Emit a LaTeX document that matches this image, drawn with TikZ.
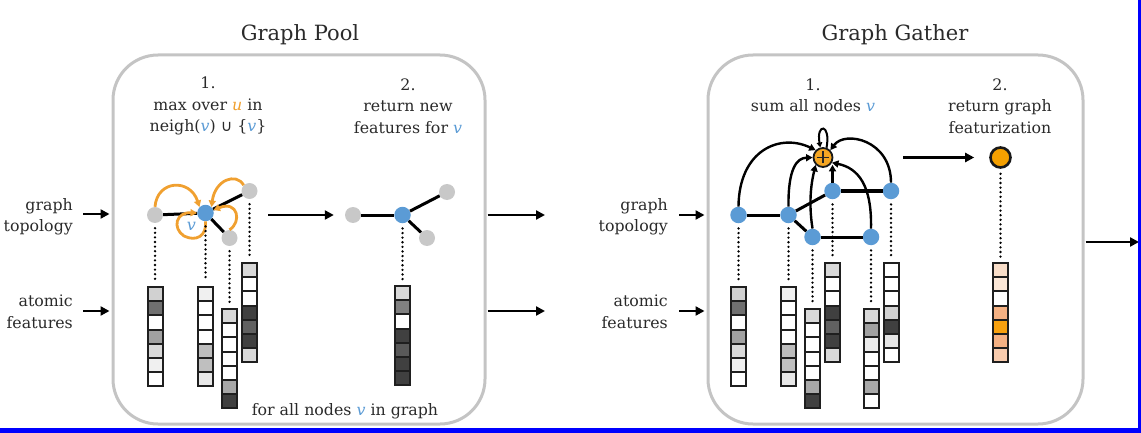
\documentclass[tikz,border=0pt]{standalone}
\usepackage{fontspec}
\setmainfont{DejaVu Serif}
\newfontfamily\symf{DejaVu Sans}
\usetikzlibrary{arrows.meta}
\definecolor{txt}{HTML}{2A2A2A}
\definecolor{vblue}{HTML}{5B9BD5}
\definecolor{uorange}{HTML}{F0A030}
\definecolor{boxgray}{HTML}{C4C4C4}
\definecolor{ngray}{HTML}{C8C8C8}
\definecolor{nblue}{HTML}{5B9BD5}
\definecolor{sumor}{HTML}{F5A623}
\definecolor{outor}{HTML}{F5A000}
\definecolor{peacha}{HTML}{F9DEC9}
\definecolor{peachb}{HTML}{FBE7D7}
\definecolor{peachc}{HTML}{F4B183}
\definecolor{peachd}{HTML}{F8CBAD}
\definecolor{orcell}{HTML}{F7A10F}
\definecolor{frameblue}{HTML}{0000FF}
\newcommand{\fcol}[4]{%
  \coordinate (#1) at (#2,#3);
  \foreach \cc [count=\ii from 0] in {#4}{
    \fill[fill=\cc] (#2-7.5,#3+\ii*14.2) rectangle ++(15,14.2);
  }
  \foreach \ii in {0,...,6}{
    \draw[cell] (#2-7.5,#3+\ii*14.2) rectangle ++(15,14.2);
  }
}
\begin{document}
\begin{tikzpicture}[x=1pt,y=-1pt,
  lbl/.style={font=\fontsize{15.8}{21.5}\selectfont, text=txt, inner sep=0pt, align=center},
  ttl/.style={font=\fontsize{21}{25}\selectfont, text=txt, inner sep=0pt},
  panel/.style={draw=boxgray, line width=3pt, rounded corners=45pt, minimum height=369pt, inner sep=0pt},
  arr/.style={line width=2.6pt, -{Triangle[length=9pt,width=9pt]}},
  garr/.style={line width=2.4pt, -{Triangle[length=6.5pt,width=7pt]}},
  oarr/.style={draw=uorange, line width=2.8pt, -{Triangle[length=6.5pt,width=7pt]}},
  gedge/.style={line width=3pt},
  gnode/.style={circle, fill=ngray, minimum size=16pt, inner sep=0pt},
  bnode/.style={circle, fill=nblue, minimum size=16.5pt, inner sep=0pt},
  dots/.style={line width=2.6pt, dash pattern=on 0pt off 4.6pt, line cap=round, shorten <=5pt, shorten >=6pt},
  cell/.style={draw=black!88, line width=2pt}
]
\useasboundingbox (0,0) rectangle (1141,433);

% panels
\node[panel, minimum width=372pt] (B1) at (299,239.5) {};
\node[panel, minimum width=375pt] (B2) at (895.5,239.5) {};

% titles
\node[ttl] (t1) at (300,35) {Graph Pool};
\node[ttl] (t2) at (895,35) {Graph Gather};

% input labels
\node[lbl, align=right, anchor=east] (gt1) at (73,217) {graph\\topology};
\node[lbl, align=right, anchor=east] (af1) at (73,312) {atomic\\features};
\node[lbl, align=right, anchor=east] (gt2) at (668,217) {graph\\topology};
\node[lbl, align=right, anchor=east] (af2) at (668,312) {atomic\\features};

\coordinate (i1) at (83,214);
\coordinate (i2) at (83,311);
\coordinate (i3) at (679,215);
\coordinate (i4) at (679,311);
\draw[arr, shorten >=2pt] (i1) -- (B1.west |- i1);
\draw[arr, shorten >=2pt] (i2) -- (B1.west |- i2);
\draw[arr, shorten >=2pt] (i3) -- (B2.west |- i3);
\draw[arr, shorten >=2pt] (i4) -- (B2.west |- i4);

\coordinate (m1) at (545,215);
\coordinate (m2) at (545,311);
\coordinate (fin) at (1139,242);
\draw[arr, shorten <=1pt] (B1.east |- m1) -- (m1);
\draw[arr, shorten <=1pt] (B1.east |- m2) -- (m2);
\draw[arr, shorten <=1pt] (B2.east |- fin) -- (fin);

% step texts
\node[lbl] (s11) at (208,106) {1.\\max over \textcolor{uorange}{\textit{u}} in\\neigh(\textcolor{vblue}{\textit{v}}) {\symf ∪} \{\textcolor{vblue}{\textit{v}}\}};
\node[lbl] (s12) at (408,106) {2.\\return new\\features for \textcolor{vblue}{\textit{v}}};
\node[lbl] (s21) at (813,95) {1.\\sum all nodes \textcolor{vblue}{\textit{v}}};
\node[lbl] (s22) at (1000,106) {2.\\return graph\\featurization};
\node[lbl] (all) at (345,411) {for all nodes \textcolor{vblue}{\textit{v}} in graph};

% ---------- Graph Pool, step 1 ----------
\node[gnode] (p1a) at (155,215) {};
\node[bnode] (p1v) at (205.5,213) {};
\node[gnode] (p1b) at (249.5,191) {};
\node[gnode] (p1c) at (229.5,238) {};
\draw[gedge] (p1a) -- (p1v);
\draw[gedge] (p1v) -- (p1b);
\draw[gedge] (p1v) -- (p1c);
\draw[oarr] (p1a.north) .. controls (157,180) and (190,178) .. (p1v.north west);
\draw[oarr] (p1b.north west) .. controls (236,172) and (215,180) .. (p1v.north east);
\draw[oarr] (p1c.north) .. controls (242,222) and (238,200) .. (p1v.20);
\draw[oarr] (p1v.south) .. controls (207,236) and (196,242) .. (184,236)
   .. controls (172,228) and (176,212) .. (p1v.west);
\node[font=\fontsize{16}{16}\selectfont\itshape, text=vblue, inner sep=0pt] (lv) at (191.5,226) {v};

\fcol{k1}{155}{287}{black!18,black!56,white,black!37,black!15,black!6,white}
\fcol{k2}{205.5}{287}{black!6,white,white,white,black!26,black!25,black!9}
\fcol{k3}{229.5}{309}{black!15,white,white,white,white,black!34,black!75}
\fcol{k4}{249.5}{263}{black!15,white,white,black!75,black!62,black!75,black!15}
\draw[dots] (p1a) -- (k1);
\draw[dots] (p1v) -- (k2);
\draw[dots] (p1c) -- (k3);
\draw[dots] (p1b) -- (k4);

% ---------- Graph Pool, step 2 ----------
\node[gnode] (q1a) at (353,215) {};
\node[bnode] (q1v) at (402.5,215) {};
\node[gnode] (q1b) at (447,192) {};
\node[gnode] (q1c) at (427,238) {};
\draw[gedge] (q1a) -- (q1v);
\draw[gedge] (q1v) -- (q1b);
\draw[gedge] (q1v) -- (q1c);
\coordinate (g1) at (268,215);
\draw[arr, shorten >=11pt] (g1) -- (q1a);
\fcol{k5}{402.5}{286}{black!15,black!50,white,black!75,black!65,black!75,black!75}
\draw[dots] (q1v) -- (k5);

% ---------- Graph Gather, step 1 ----------
\node[bnode] (A) at (738.5,215) {};
\node[bnode] (Bn) at (788.5,215) {};
\node[bnode] (C) at (832.5,191) {};
\node[bnode] (D) at (891,191) {};
\node[bnode] (E) at (812.5,237) {};
\node[bnode] (F) at (871,237) {};
\node[circle, fill=sumor, draw=black!90, line width=1.8pt, minimum size=19pt, inner sep=0pt,
  path picture={\draw[line width=1.2pt, black!85]
    ([yshift=-3.5pt]path picture bounding box.north) -- ([yshift=3.5pt]path picture bounding box.south)
    ([xshift=3.5pt]path picture bounding box.west) -- ([xshift=-3.5pt]path picture bounding box.east);}] (S) at (823,157.5) {};
\draw[gedge] (A) -- (Bn);
\draw[gedge] (Bn) -- (C);
\draw[gedge] (Bn) -- (E);
\draw[gedge] (C) -- (D);
\draw[gedge] (E) -- (F);
\draw[garr] (A.north) .. controls (739,150) and (780,133) .. (S.north west);
\draw[garr] (Bn.north) .. controls (788,168) and (797,158) .. (S.west);
\draw[garr] (E.north) .. controls (808,200) and (812,180) .. (S.south west);
\draw[garr] (C.north) -- (C |- S.south east);
\draw[garr] (F.north) .. controls (872,185) and (858,168) .. (S.-30);
\draw[garr] (D.north) .. controls (891,140) and (845,130) .. (S.north east);
\draw[line width=2pt, -{Triangle[length=5pt,width=5.5pt]}] (S.70) .. controls (831,123) and (816,123) .. (S.105);

\fcol{cA}{738.5}{287}{black!18,black!56,white,black!37,black!15,black!6,white}
\fcol{cB}{788.5}{287}{black!6,white,white,white,black!26,black!25,black!9}
\fcol{cE}{812.5}{309}{black!15,white,white,white,white,black!34,black!75}
\fcol{cC}{832.5}{263}{black!15,white,white,black!75,black!62,black!75,black!15}
\fcol{cF}{871}{309}{black!15,black!37,black!8,white,white,black!34,white}
\fcol{cD}{891}{263}{white,white,white,black!18,black!75,black!10,white}
\draw[dots] (A) -- (cA);
\draw[dots] (Bn) -- (cB);
\draw[dots] (E) -- (cE);
\draw[dots] (C) -- (cC);
\draw[dots] (F) -- (cF);
\draw[dots] (D) -- (cD);

% ---------- Graph Gather, step 2 ----------
\node[circle, fill=outor, draw=black!90, line width=2.6pt, minimum size=20pt, inner sep=0pt] (O) at (1000.5,157.5) {};
\draw[arr, shorten <=70pt, shorten >=15pt] (S) -- (O);
\fcol{cO}{1000.5}{263}{peacha,peachb,white,peachc,orcell,peachc,peachd}
\draw[dots] (O) -- (cO);

% frame
\fill[frameblue] (0,428) rectangle (1141,433);
\fill[frameblue] (1138,0) rectangle (1141,433);
\end{tikzpicture}
\end{document}
